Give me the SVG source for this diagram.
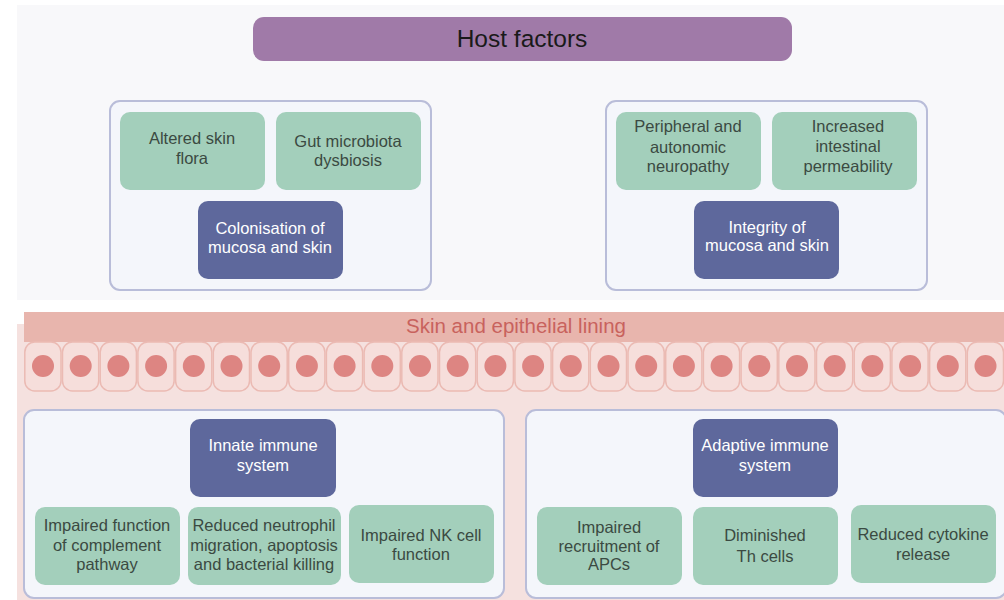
<svg xmlns="http://www.w3.org/2000/svg" width="1004" height="600" viewBox="0 0 1004 600">
<defs>
<style>
text{font-family:"Liberation Sans",Arial,sans-serif;font-size:16.5px;text-anchor:middle}
.panel{fill:#f4f6fb;stroke:#b9bdd9;stroke-width:2}
.green{fill:#a3cfbb}
.blue{fill:#5e689c}
.gt{fill:#3b4a42}
.bt{fill:#ffffff}
.cell{fill:#f6dedb;stroke:#ebbab3;stroke-width:1.5}
.nuc{fill:#dd8582}
</style>
<g id="cellunit">
<rect class="cell" x="0.8" y="342" width="36.2" height="49" rx="10"/>
<circle class="nuc" cx="19" cy="366" r="11"/>
</g>
</defs>
<rect x="0" y="0" width="1004" height="600" fill="#ffffff"/>
<rect x="17" y="5" width="987" height="295" fill="#f8f8fa"/>
<rect x="17" y="324" width="987" height="276" fill="#f5e1df"/>
<rect x="24" y="312" width="980" height="30" fill="#e8b5ad"/>
<text x="516" y="333" style="font-size:20.5px;fill:#c8625d">Skin and epithelial lining</text>
<g id="cells">
<use href="#cellunit" x="24"/><use href="#cellunit" x="61.7"/><use href="#cellunit" x="99.4"/><use href="#cellunit" x="137.1"/><use href="#cellunit" x="174.8"/><use href="#cellunit" x="212.5"/><use href="#cellunit" x="250.2"/><use href="#cellunit" x="287.9"/><use href="#cellunit" x="325.6"/><use href="#cellunit" x="363.3"/><use href="#cellunit" x="401"/><use href="#cellunit" x="438.7"/><use href="#cellunit" x="476.4"/><use href="#cellunit" x="514.1"/><use href="#cellunit" x="551.8"/><use href="#cellunit" x="589.5"/><use href="#cellunit" x="627.2"/><use href="#cellunit" x="664.9"/><use href="#cellunit" x="702.6"/><use href="#cellunit" x="740.3"/><use href="#cellunit" x="778"/><use href="#cellunit" x="815.7"/><use href="#cellunit" x="853.4"/><use href="#cellunit" x="891.1"/><use href="#cellunit" x="928.8"/><use href="#cellunit" x="966.5"/>
</g>
<g id="host-factors">
<rect x="253" y="17" width="539" height="44" rx="11" fill="#a07aa8"/>
<text x="522" y="47" style="font-size:24.5px;fill:#1a1a1a">Host factors</text>
</g>
<g id="panel-colonisation">
<rect class="panel" x="110" y="101" width="321" height="189" rx="10"/>
</g>
<g id="altered-skin-flora">
<rect class="green" x="120" y="112" width="145" height="78" rx="10"/>
<text class="gt" x="192" y="144">Altered skin</text><text class="gt" x="192" y="164">flora</text>
</g>
<g id="gut-microbiota">
<rect class="green" x="276" y="112" width="145" height="78" rx="10"/>
<text class="gt" x="348" y="147">Gut microbiota</text><text class="gt" x="348" y="166">dysbiosis</text>
</g>
<g id="colonisation">
<rect class="blue" x="198" y="201" width="145" height="78" rx="10"/>
<text class="bt" x="270" y="234">Colonisation of</text><text class="bt" x="270" y="253">mucosa and skin</text>
</g>
<g id="panel-integrity">
<rect class="panel" x="606" y="101" width="321" height="189" rx="10"/>
</g>
<g id="neuropathy">
<rect class="green" x="616" y="112" width="145" height="78" rx="10"/>
<text class="gt" x="688" y="132">Peripheral and</text><text class="gt" x="688" y="153">autonomic</text><text class="gt" x="688" y="172">neuropathy</text>
</g>
<g id="permeability">
<rect class="green" x="772" y="112" width="145" height="78" rx="10"/>
<text class="gt" x="848" y="132">Increased</text><text class="gt" x="848" y="152">intestinal</text><text class="gt" x="848" y="172">permeability</text>
</g>
<g id="integrity">
<rect class="blue" x="694" y="201" width="145" height="78" rx="10"/>
<text class="bt" x="767" y="233">Integrity of</text><text class="bt" x="767" y="251">mucosa and skin</text>
</g>
<g id="panel-innate">
<rect class="panel" x="24" y="410" width="480" height="188" rx="10"/>
</g>
<g id="innate">
<rect class="blue" x="190" y="419" width="146" height="78" rx="10"/>
<text class="bt" x="263" y="451">Innate immune</text><text class="bt" x="263" y="471">system</text>
</g>
<g id="complement">
<rect class="green" x="35" y="507" width="145" height="78" rx="10"/>
<text class="gt" x="107" y="531">Impaired function</text><text class="gt" x="107" y="551">of complement</text><text class="gt" x="107" y="570">pathway</text>
</g>
<g id="neutrophil">
<rect class="green" x="188" y="507" width="153" height="78" rx="10"/>
<text class="gt" x="264" y="531">Reduced neutrophil</text><text class="gt" x="264" y="551">migration, apoptosis</text><text class="gt" x="264" y="570">and bacterial killing</text>
</g>
<g id="nk-cell">
<rect class="green" x="349" y="505" width="145" height="78" rx="10"/>
<text class="gt" x="421" y="541">Impaired NK cell</text><text class="gt" x="421" y="560">function</text>
</g>
<g id="panel-adaptive">
<rect class="panel" x="526" y="410" width="480" height="188" rx="10"/>
</g>
<g id="adaptive">
<rect class="blue" x="693" y="419" width="145" height="78" rx="10"/>
<text class="bt" x="765" y="451">Adaptive immune</text><text class="bt" x="765" y="471">system</text>
</g>
<g id="apcs">
<rect class="green" x="537" y="507" width="145" height="78" rx="10"/>
<text class="gt" x="609" y="533">Impaired</text><text class="gt" x="609" y="552">recruitment of</text><text class="gt" x="609" y="570">APCs</text>
</g>
<g id="th-cells">
<rect class="green" x="693" y="507" width="145" height="78" rx="10"/>
<text class="gt" x="765" y="541">Diminished</text><text class="gt" x="765" y="562">Th cells</text>
</g>
<g id="cytokine">
<rect class="green" x="851" y="505" width="145" height="78" rx="10"/>
<text class="gt" x="923" y="540">Reduced cytokine</text><text class="gt" x="923" y="560">release</text>
</g>
<g id="connectors"></g>
</svg>
